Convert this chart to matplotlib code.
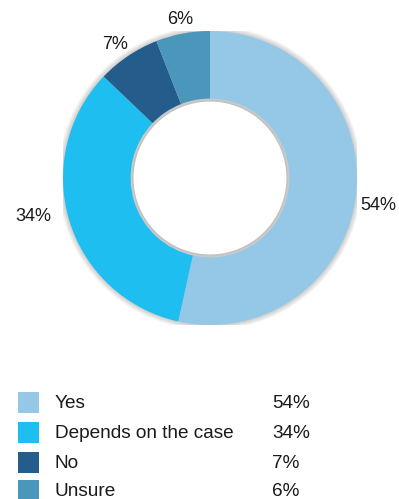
import numpy as np
import matplotlib.pyplot as plt
from matplotlib.patches import Rectangle, Circle

# ==========================================================
# Data
# ==========================================================

CATEGORIES = ["Yes", "Depends on the case", "No", "Unsure"]
VALUES = [54, 34, 7, 6]
COLORS = ["#95c8e6", "#1ebef0", "#245d8c", "#4a97bb"]

# label placement: radial distance and angle nudge (deg) per wedge
LABEL_DIST = [1.157, 1.232, 1.117, 1.10]
LABEL_NUDGE = [-2.9, -4.8, 1.5, 0.0]

W, H = 399, 499
TEXT_COLOR = "#1a1a1a"

plt.rcParams["font.family"] = ["Liberation Sans", "DejaVu Sans"]

fig = plt.figure(figsize=(W / 100, H / 100), dpi=100)

# donut axes: centre (210, 178) px, radius 147 px
cx, cy, r = 210, 178, 147
ax = fig.add_axes([(cx - r) / W, (H - cy - r) / H, 2 * r / W, 2 * r / H])

# soft shadow around the ring
for i in range(6):
    ax.add_patch(Circle((0, 0), 1.0 + 0.006 * (i + 1), color="black",
                        alpha=0.03, lw=0, zorder=0))

wedges, _ = ax.pie(
    VALUES,
    colors=COLORS,
    startangle=90,
    counterclock=False,
    radius=1.0,
    wedgeprops=dict(width=0.46, linewidth=0),
)

# percentage labels outside each wedge
for w, v, d, nudge in zip(wedges, VALUES, LABEL_DIST, LABEL_NUDGE):
    mid = np.deg2rad((w.theta1 + w.theta2) / 2 + nudge)
    ax.text(d * np.cos(mid), d * np.sin(mid), f"{v}%", fontsize=13,
            color=TEXT_COLOR, ha="center", va="center", clip_on=False)

# faint inner shadow
inner = 1.0 - 0.46
for i in range(4):
    ax.add_patch(Circle((0, 0), inner - 0.005 * i, color="black",
                        alpha=0.02, lw=0, zorder=3))
ax.add_patch(Circle((0, 0), inner - 0.02, color="white", lw=0, zorder=4))

ax.set_xlim(-1, 1)
ax.set_ylim(-1, 1)
ax.set_aspect("equal")
ax.axis("off")

# legend
row_y = [403, 433, 463, 491]
for name, val, col, y in zip(CATEGORIES, VALUES, COLORS, row_y):
    fig.patches.append(Rectangle((18 / W, (H - y - 10) / H), 21 / W, 21 / H,
                                 transform=fig.transFigure, color=col, lw=0))
    fig.text(55 / W, (H - y) / H, name, fontsize=13.7, va="center",
             color=TEXT_COLOR)
    fig.text(272 / W, (H - y) / H, f"{val}%", fontsize=13.7, va="center",
             color=TEXT_COLOR)

fig.savefig("out.png", dpi=100)
